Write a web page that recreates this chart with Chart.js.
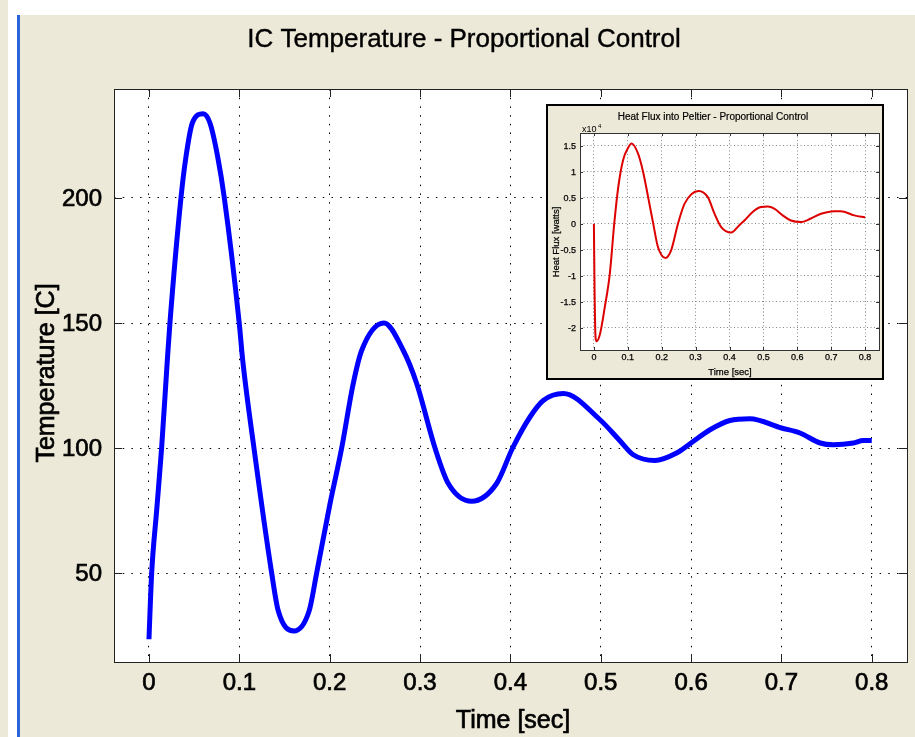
<!DOCTYPE html>
<html>
<head>
<meta charset="utf-8">
<script src="https://cdn.jsdelivr.net/npm/chart.js@4/dist/chart.umd.min.js"></script>
<style>
  html, body { margin: 0; padding: 0; background: #ECE9D8; overflow: hidden; }
  #page { position: relative; width: 915px; height: 737px; }
  .strip { position: absolute; }
  #main { position: absolute; left: 0; top: 0; }
  #insetBox { position: absolute; left: 546px; top: 104px; width: 334px; height: 272px;
              border: 2px solid #000; background: #ECE9D8; }
  #inset { position: absolute; left: 0; top: 0; }
</style>
</head>
<body>
<div id="page">
  <div class="strip" style="left:8px;top:0;width:9px;height:737px;background:#fff"></div>
  <div class="strip" style="left:17px;top:0;width:898px;height:15px;background:#fff"></div>
  <div class="strip" style="left:17px;top:15px;width:3px;height:722px;background:#2b63d9"></div>
  <canvas id="main" width="915" height="737"></canvas>
  <div id="insetBox"><canvas id="inset" width="334" height="272"></canvas></div>
</div>
<script>
// main plot: IC temperature
const mainTitle = 'IC Temperature - Proportional Control';
const mainXLabel = 'Time [sec]';
const mainYLabel = 'Temperature [C]';
const mainXTicks = [0, 0.1, 0.2, 0.3, 0.4, 0.5, 0.6, 0.7, 0.8];
const mainYTicks = [50, 100, 150, 200];
const mainTime = [0, 0.001, 0.003, 0.0085, 0.014, 0.0203, 0.0232, 0.0354, 0.041, 0.048, 0.06,
  0.0675, 0.076, 0.0834, 0.0999, 0.1037, 0.1162, 0.1358, 0.143, 0.1605, 0.1774, 0.1856, 0.2,
  0.2133, 0.2261, 0.2354, 0.2601, 0.2815, 0.2963, 0.3166, 0.3313, 0.3572, 0.3848, 0.4025,
  0.4217, 0.4364, 0.4586, 0.4992, 0.521, 0.536, 0.56, 0.584, 0.6, 0.621, 0.643, 0.665, 0.7,
  0.7205, 0.743, 0.7575, 0.7796, 0.7906, 0.8];
const mainTemp = [23.5, 33, 50, 75, 100, 135, 150, 200, 216.6, 230, 233.7,
  230, 216.6, 200, 150, 135.3, 100, 50, 35, 26.8, 35, 50, 77,
  100, 125.8, 139, 150, 139, 125.8, 100, 85.8, 78.7, 85.8, 100,
  112.4, 119, 121.8, 111.3, 103, 97.3, 95, 98, 102, 107.3, 111, 111.7, 108,
  106, 102, 101.3, 102, 103, 103];

// inset: heat flux
const insetTitle = 'Heat Flux into Peltier - Proportional Control';
const insetXLabel = 'Time [sec]';
const insetYLabel = 'Heat Flux [watts]';
const insetXTicks = [0, 0.1, 0.2, 0.3, 0.4, 0.5, 0.6, 0.7, 0.8];
const insetYTicks = [-2, -1.5, -1, -0.5, 0, 0.5, 1, 1.5];
const insetTime = [0, 0.002, 0.005, 0.008, 0.018, 0.032, 0.047, 0.06, 0.072, 0.086, 0.101,
  0.111, 0.13, 0.145, 0.16, 0.175, 0.189, 0.211, 0.228, 0.248, 0.268, 0.309, 0.336, 0.356,
  0.375, 0.405, 0.429, 0.444, 0.469, 0.493, 0.513, 0.532, 0.557, 0.581, 0.611, 0.64, 0.67,
  0.709, 0.728, 0.768, 0.8];
const insetFlux = [0, -1.3, -2.2, -2.26, -2.12, -1.61, -0.96, 0, 0.71, 1.22, 1.46,
  1.54, 1.35, 1.0, 0.51, 0, -0.45, -0.66, -0.51, 0, 0.39, 0.63, 0.51, 0.19,
  -0.06, -0.17, -0.03, 0.06, 0.23, 0.32, 0.33, 0.29, 0.16, 0.06, 0.03, 0.10, 0.19,
  0.24, 0.24, 0.16, 0.12];

const FONT = "'Liberation Sans', Arial, sans-serif";

function pts(xs, ys) { return xs.map((x, i) => ({ x, y: ys[i] })); }

// slightly heavier text, the screenshot's helvetica looks between regular and bold
function heavyText(ctx, text, x, y, weight) {
  ctx.fillText(text, x, y);
  if (weight) {
    ctx.lineWidth = weight;
    ctx.strokeStyle = '#000';
    ctx.strokeText(text, x, y);
  }
}

// white plot area, box, inward ticks and all labels like matlab
function frameOf(opts) {
  return {
    id: 'frame',
    beforeDraw(chart) {
      const a = chart.chartArea, ctx = chart.ctx;
      ctx.save();
      ctx.fillStyle = '#fff';
      ctx.fillRect(a.left, a.top, a.right - a.left, a.bottom - a.top);
      ctx.restore();
    },
    afterDraw(chart) {
      const a = chart.chartArea, ctx = chart.ctx;
      const sx = chart.scales.x, sy = chart.scales.y;
      ctx.save();
      ctx.strokeStyle = opts.frame;
      ctx.lineWidth = 1;
      ctx.strokeRect(Math.round(a.left) + 0.5, Math.round(a.top) + 0.5,
        Math.round(a.right - a.left), Math.round(a.bottom - a.top));
      ctx.beginPath();
      opts.xt.forEach(v => {
        const p = Math.round(sx.getPixelForValue(v)) + 0.5;
        ctx.moveTo(p, a.bottom); ctx.lineTo(p, a.bottom - opts.tick);
        ctx.moveTo(p, a.top); ctx.lineTo(p, a.top + opts.tick);
      });
      opts.yt.forEach(v => {
        const p = Math.round(sy.getPixelForValue(v)) + 0.5;
        ctx.moveTo(a.left, p); ctx.lineTo(a.left + opts.tick, p);
        ctx.moveTo(a.right, p); ctx.lineTo(a.right - opts.tick, p);
      });
      ctx.stroke();

      // tick labels
      ctx.fillStyle = '#000';
      ctx.font = `${opts.tickSize}px ${FONT}`;
      ctx.textBaseline = 'middle';
      ctx.textAlign = 'center';
      opts.xt.forEach(v => heavyText(ctx, String(v), sx.getPixelForValue(v), a.bottom + opts.xLabGap, opts.weight));
      ctx.textAlign = 'right';
      opts.yt.forEach(v => heavyText(ctx, String(v), a.left - opts.yLabGap, sy.getPixelForValue(v) + 1, opts.weight));

      opts.texts.forEach(t => {
        ctx.save();
        ctx.font = t.font;
        ctx.textAlign = t.align || 'center';
        ctx.textBaseline = 'alphabetic';
        ctx.translate(t.x, t.y);
        if (t.rot) ctx.rotate(t.rot);
        heavyText(ctx, t.text, 0, 0, t.w);
        ctx.restore();
      });
      ctx.restore();
    }
  };
}

function axis(min, max, ticks, fit, gridColor, dash) {
  return {
    type: 'linear', min, max,
    afterBuildTicks: s => { s.ticks = ticks.map(v => ({ value: v })); },
    afterFit: fit,
    grid: { color: gridColor, lineWidth: 1, drawTicks: false },
    border: { display: false, dash },
    ticks: { display: false },
  };
}

new Chart(document.getElementById('main'), {
  type: 'line',
  data: { datasets: [{ data: pts(mainTime, mainTemp), borderColor: '#0000ff', borderWidth: 5,
    pointRadius: 0, cubicInterpolationMode: 'monotone', fill: false }] },
  options: {
    responsive: false, animation: false, devicePixelRatio: 1,
    layout: { padding: { top: 89, right: 8, left: 0, bottom: 0 } },
    plugins: { legend: { display: false }, tooltip: { enabled: false } },
    scales: {
      x: axis(-0.0387, 0.839, mainXTicks, s => { s.height = 75; }, '#000', [1.5, 7.2]),
      y: axis(14.4, 243.6, mainYTicks, s => { s.width = 114; }, '#000', [1.5, 7.2]),
    },
  },
  plugins: [frameOf({ frame: '#222', tick: 8, xt: mainXTicks, yt: mainYTicks,
    tickSize: 24, xLabGap: 21, yLabGap: 12, weight: 0.7, texts: [
    { text: mainTitle, x: 464, y: 47, font: `26px ${FONT}`, w: 0.4 },
    { text: mainXLabel, x: 513, y: 728, font: `25px ${FONT}`, w: 0.7 },
    { text: mainYLabel, x: 54, y: 373, rot: -Math.PI / 2, font: `25px ${FONT}`, w: 0.7 },
  ] })],
});

new Chart(document.getElementById('inset'), {
  type: 'line',
  data: { datasets: [{ data: pts(insetTime, insetFlux), borderColor: '#dd0000', borderWidth: 2,
    pointRadius: 0, cubicInterpolationMode: 'monotone', fill: false }] },
  options: {
    responsive: false, animation: false, devicePixelRatio: 1,
    layout: { padding: { top: 27, right: 3, left: 0, bottom: 0 } },
    plugins: { legend: { display: false }, tooltip: { enabled: false } },
    scales: {
      x: axis(-0.041, 0.841, insetXTicks, s => { s.height = 28; }, '#888', [1, 2.5]),
      y: axis(-2.43, 1.744, insetYTicks, s => { s.width = 32; }, '#888', [1, 2.5]),
    },
  },
  plugins: [frameOf({ frame: '#333', tick: 3, xt: insetXTicks, yt: insetYTicks,
    tickSize: 9, xLabGap: 8, yLabGap: 4, weight: 0.25, texts: [
    { text: insetTitle, x: 165, y: 14, font: `10px ${FONT}`, w: 0.2 },
    { text: insetXLabel, x: 182, y: 269, font: `9.5px ${FONT}`, w: 0.25 },
    { text: insetYLabel, x: 11, y: 136, rot: -Math.PI / 2, font: `9.5px ${FONT}`, w: 0.25 },
    { text: 'x10', x: 34, y: 26, align: 'left', font: `9px ${FONT}` },
    { text: '4', x: 50, y: 22, align: 'left', font: `6px ${FONT}` },
  ] })],
});
</script>
</body>
</html>
